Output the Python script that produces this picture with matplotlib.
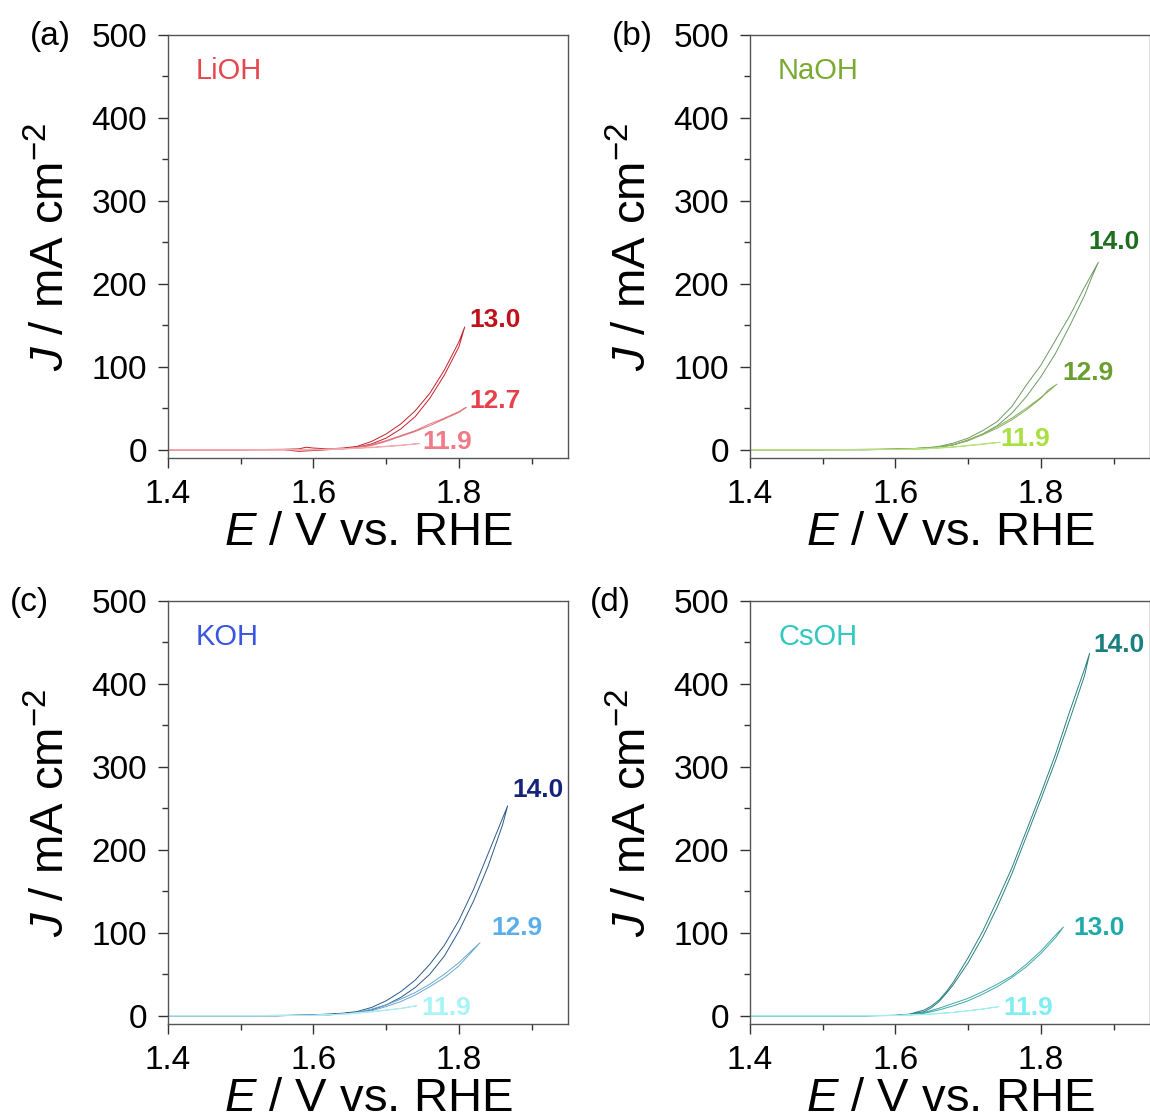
import matplotlib
matplotlib.use("Agg")
import matplotlib.pyplot as plt
from matplotlib.ticker import MultipleLocator

plt.rcParams['font.family'] = ['Liberation Sans', 'DejaVu Sans']
plt.rcParams['mathtext.fontset'] = 'custom'
plt.rcParams['mathtext.rm'] = 'Liberation Sans'
plt.rcParams['mathtext.it'] = 'Liberation Sans:italic'
plt.rcParams['mathtext.bf'] = 'Liberation Sans:bold'

# ---- (a) LiOH ----
li130_E = [1.40, 1.50, 1.56, 1.58, 1.59, 1.60, 1.62, 1.64, 1.66, 1.68, 1.70, 1.72, 1.74, 1.76, 1.78, 1.80, 1.808,
           1.80, 1.78, 1.76, 1.74, 1.72, 1.70, 1.68, 1.66, 1.64, 1.62, 1.60, 1.58, 1.56, 1.50, 1.40]
li130_J = [0, 0, 0.5, 1, 3, 2, 1, 2, 4, 10, 19, 31, 47, 68, 96, 130, 148,
           124, 90, 62, 40, 25, 14, 7, 3, 1, 0, -1, -2, 0, 0, 0]
li127_E = [1.40, 1.50, 1.60, 1.64, 1.66, 1.68, 1.70, 1.72, 1.74, 1.76, 1.78, 1.80, 1.81,
           1.80, 1.78, 1.76, 1.74, 1.72, 1.70, 1.68, 1.66, 1.62, 1.50, 1.40]
li127_J = [0, 0, 0, 1, 3, 6, 11, 17, 23, 31, 38, 46, 51,
           45, 37, 29, 22, 16, 10, 5, 2, 0.5, 0, 0]
li119_E = [1.40, 1.50, 1.60, 1.64, 1.68, 1.72, 1.746, 1.72, 1.68, 1.64, 1.60, 1.50, 1.40]
li119_J = [0, 0, 0, 1, 3, 5.5, 7.5, 5, 2.5, 0.8, 0, 0, 0]

# ---- (b) NaOH ----
na140_E = [1.40, 1.50, 1.56, 1.60, 1.64, 1.66, 1.68, 1.70, 1.72, 1.74, 1.76, 1.78, 1.80, 1.82, 1.84, 1.86, 1.879,
           1.87, 1.86, 1.84, 1.82, 1.80, 1.78, 1.76, 1.74, 1.72, 1.70, 1.68, 1.66, 1.62, 1.56, 1.50, 1.40]
na140_J = [0, 0, 0, 0.5, 2, 4, 8, 14, 23, 34, 52, 78, 102, 132, 162, 196, 226,
           208, 186, 150, 116, 88, 64, 44, 29, 19, 11, 6, 3, 1, 0, 0, 0]
na129_E = [1.40, 1.50, 1.60, 1.64, 1.66, 1.68, 1.70, 1.72, 1.74, 1.76, 1.78, 1.80, 1.81, 1.822,
           1.81, 1.80, 1.78, 1.76, 1.74, 1.72, 1.70, 1.68, 1.66, 1.62, 1.50, 1.40]
na129_J = [0, 0, 0.5, 2, 3, 6, 12, 19, 28, 38, 50, 63, 70, 79,
           72, 62, 48, 36, 26, 18, 11, 6, 3, 1, 0, 0]
na119_E = [1.40, 1.50, 1.60, 1.64, 1.68, 1.72, 1.744, 1.72, 1.68, 1.64, 1.60, 1.50, 1.40]
na119_J = [0, 0, 0.3, 1, 3.5, 7, 9, 6.5, 3, 1, 0.2, 0, 0]

# ---- (c) KOH ----
k140_E = [1.40, 1.50, 1.55, 1.60, 1.64, 1.66, 1.68, 1.70, 1.72, 1.74, 1.76, 1.78, 1.80, 1.82, 1.84, 1.86, 1.867,
          1.86, 1.84, 1.82, 1.80, 1.78, 1.76, 1.74, 1.72, 1.70, 1.68, 1.66, 1.62, 1.55, 1.50, 1.40]
k140_J = [0, 0, 0, 1, 3, 5, 10, 18, 29, 43, 62, 85, 115, 152, 195, 238, 253,
          230, 180, 138, 102, 72, 50, 34, 22, 13, 7, 4, 1, 0, 0, 0]
k129_E = [1.40, 1.50, 1.60, 1.64, 1.66, 1.68, 1.70, 1.72, 1.74, 1.76, 1.78, 1.80, 1.829,
          1.80, 1.78, 1.76, 1.74, 1.72, 1.70, 1.68, 1.66, 1.62, 1.50, 1.40]
k129_J = [0, 0, 0.5, 2, 4, 8, 13, 20, 28, 38, 50, 64, 88,
          60, 46, 35, 25, 17, 11, 6, 3, 1, 0, 0]
k119_E = [1.40, 1.50, 1.60, 1.64, 1.68, 1.72, 1.742, 1.72, 1.68, 1.64, 1.60, 1.50, 1.40]
k119_J = [0, 0, 0.5, 2, 5, 9, 12, 8.5, 4.5, 1.5, 0.3, 0, 0]

# ---- (d) CsOH ----
cs140_E = [1.40, 1.50, 1.56, 1.60, 1.62, 1.64, 1.65, 1.66, 1.67, 1.68, 1.70, 1.72, 1.74, 1.76, 1.78, 1.80, 1.82, 1.84, 1.86, 1.867,
           1.86, 1.84, 1.82, 1.80, 1.78, 1.76, 1.74, 1.72, 1.70, 1.68, 1.67, 1.66, 1.65, 1.64, 1.62, 1.60, 1.56, 1.50, 1.40]
cs140_J = [0, 0, 0, 0.5, 2, 7, 12, 19, 29, 41, 70, 102, 139, 178, 223, 268, 315, 368, 418, 437,
           410, 358, 307, 261, 216, 171, 131, 95, 64, 38, 27, 17, 10, 5, 1.5, 0.3, 0, 0, 0]
cs130_E = [1.40, 1.50, 1.60, 1.62, 1.64, 1.66, 1.68, 1.70, 1.72, 1.74, 1.76, 1.78, 1.80, 1.82, 1.831,
           1.82, 1.80, 1.78, 1.76, 1.74, 1.72, 1.70, 1.68, 1.66, 1.64, 1.62, 1.60, 1.50, 1.40]
cs130_J = [0, 0, 0.3, 1, 4, 9, 15, 21, 29, 38, 48, 62, 78, 97, 107,
           94, 75, 59, 46, 35, 26, 18, 12, 7, 3, 1, 0.2, 0, 0]
cs119_E = [1.40, 1.50, 1.60, 1.64, 1.68, 1.72, 1.742, 1.72, 1.68, 1.64, 1.60, 1.50, 1.40]
cs119_J = [0, 0, 0.3, 1.5, 4, 8, 11, 8, 4, 1.5, 0.3, 0, 0]

panel_tags = ['(a)', '(b)', '(c)', '(d)']

panels = [
    dict(name='LiOH', name_c='#e8464e', series=[
        (li130_E, li130_J, '13.0', '#c4202a', '#c0101a', 1.815, 156),
        (li127_E, li127_J, '12.7', '#e07880', '#e8404a', 1.815, 59),
        (li119_E, li119_J, '11.9', '#f4a8b0', '#f07a85', 1.750, 9)]),
    dict(name='NaOH', name_c='#7aaa32', series=[
        (na140_E, na140_J, '14.0', '#6e9a62', '#1e6e1e', 1.865, 251),
        (na129_E, na129_J, '12.9', '#8ab060', '#6a9e2e', 1.829, 92),
        (na119_E, na119_J, '11.9', '#b8e080', '#a8e040', 1.744, 13)]),
    dict(name='KOH', name_c='#3a55e0', series=[
        (k140_E, k140_J, '14.0', '#2c5a88', '#16237a', 1.873, 272),
        (k129_E, k129_J, '12.9', '#6aa8d0', '#5aaeea', 1.845, 106),
        (k119_E, k119_J, '11.9', '#b0eaf0', '#a8f4f4', 1.749, 9)]),
    dict(name='CsOH', name_c='#30c8c0', series=[
        (cs140_E, cs140_J, '14.0', '#2a8080', '#1a7f7f', 1.872, 447),
        (cs130_E, cs130_J, '13.0', '#40a8a8', '#1eaaaa', 1.845, 106),
        (cs119_E, cs119_J, '11.9', '#a0eef0', '#80eef0', 1.748, 9)]),
]

W, H = 1150, 1120
fig = plt.figure(figsize=(W / 100, H / 100), dpi=100)

# axes boxes in pixels: left, bottom (from top)
boxes = [(168, 458), (750, 458), (168, 1024), (750, 1024)]
tag_pos = [(30, 37), (612, 37), (10, 603), (590, 603)]

for i, p in enumerate(panels):
    l, b = boxes[i]
    ax = fig.add_axes([l / W, 1 - b / H, 400 / W, 423 / H])
    for E, J, lab, lc, tc, tx, ty in p['series']:
        ax.plot(E, J, color=lc, lw=0.7)
        ax.text(tx, ty, lab, color=tc, fontsize=19, fontweight='bold',
                ha='left', va='center')
    ax.text(0.07, 0.915, p['name'], color=p['name_c'], fontsize=21,
            transform=ax.transAxes, va='center', ha='left')

    ax.set_xlim(1.4, 1.95)
    ax.set_ylim(-10, 500)
    ax.xaxis.set_minor_locator(MultipleLocator(0.1))
    ax.yaxis.set_major_locator(MultipleLocator(100))
    ax.yaxis.set_minor_locator(MultipleLocator(50))
    ax.set_xticks([1.4, 1.6, 1.8])
    ax.set_xticklabels(['1.4', '1.6', '1.8'])
    ax.tick_params(which='major', direction='out', length=7, width=1,
                   labelsize=24, pad=8, color='#333333')
    ax.tick_params(which='minor', direction='out', length=4, width=1,
                   color='#333333')
    for s in ax.spines.values():
        s.set_color('#555555')
        s.set_linewidth(1)

    ax.set_xlabel(r'$E$ / V vs. RHE', fontsize=34)
    ax.set_ylabel(r'$J$ / mA cm$^{-2}$', fontsize=34)
    ax.xaxis.set_label_coords(0.5, -0.125)
    ax.yaxis.set_label_coords(-0.235, 0.5)

    tx, ty = tag_pos[i]
    fig.text(tx / W, 1 - ty / H, panel_tags[i], fontsize=24,
             ha='left', va='center')

fig.savefig('out.png', dpi=100)
